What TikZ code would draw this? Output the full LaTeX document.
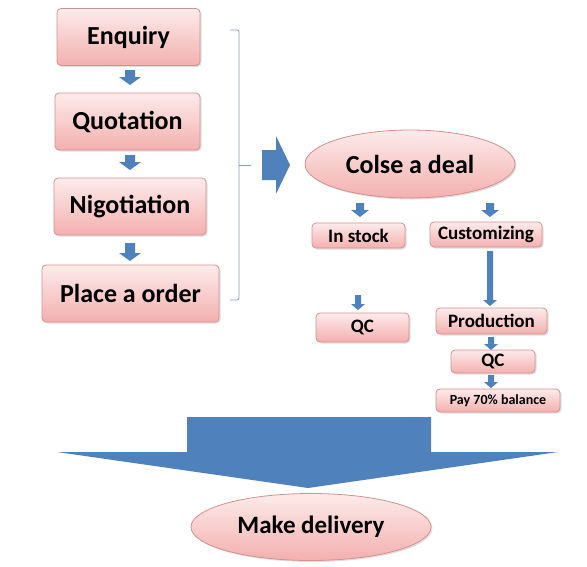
\documentclass[tikz,border=0pt]{standalone}
\usepackage{fontspec}
\setmainfont{Carlito}
\usetikzlibrary{shapes.geometric,shadows}
\definecolor{pinktop}{HTML}{FDEBEB}
\definecolor{pinkbot}{HTML}{F3B0AF}
\definecolor{pinkline}{HTML}{D4908E}
\definecolor{arrowblue}{HTML}{4F81BD}
\definecolor{bracketc}{HTML}{7F9CC0}
\newcommand\dnarr[6]{\fill[arrowblue] (#1-#4,#2) -- (#1+#4,#2) -- (#1+#4,#3-#6) -- (#1+#5,#3-#6) -- (#1,#3) -- (#1-#5,#3-#6) -- (#1-#4,#3-#6) -- cycle;}
\tikzset{
  pinkbox/.style={draw=pinkline, line width=0.8pt, rounded corners=4pt, top color=pinktop, bottom color=pinkbot,
    inner sep=0pt, font=\bfseries, text=black, drop shadow={opacity=0.25, shadow xshift=1.5pt, shadow yshift=-1.5pt}},
  pinkell/.style={pinkbox, ellipse, rounded corners=0pt},
  bigtxt/.style={font=\bfseries\fontsize{26}{29}\selectfont},
  midtxt/.style={font=\bfseries\fontsize{19}{21}\selectfont},
}
\begin{document}
\begin{tikzpicture}[x=1pt,y=-1pt]
\useasboundingbox (0,0) rectangle (587,566);
% left column
\node[pinkbox, bigtxt, minimum width=143, minimum height=57] (enq) at (128.5,37) {Enquiry};
\node[pinkbox, bigtxt, minimum width=145, minimum height=57] (quo) at (127.5,121.5) {Quotation};
\node[pinkbox, bigtxt, minimum width=152, minimum height=57] (nig) at (130,206.5) {Nigotiation};
\node[pinkbox, bigtxt, minimum width=177, minimum height=57] (ord) at (130.5,293.5) {Place a order};
\dnarr{130}{70}{85}{5}{11}{8}
\dnarr{130}{155}{170}{5}{11}{8}
\dnarr{130}{243}{261}{5}{11}{8}
% bracket
\draw[bracketc, line width=0.8pt, rounded corners=2pt] (230,30) -- (239,30) -- (239,300) -- (230,300);
\draw[bracketc, line width=0.8pt] (239,165) -- (251,165);
% big right arrow
\fill[arrowblue] (262,150) -- (276,150) -- (276,136) -- (290,165) -- (276,194) -- (276,180) -- (262,180) -- cycle;
% right part
\node[pinkell, bigtxt, minimum width=210, minimum height=68] (deal) at (410,164) {Colse a deal};
\dnarr{360}{203}{217}{4}{9}{7}
\dnarr{490}{203}{217}{4}{9}{7}
\node[pinkbox, midtxt, minimum width=93, minimum height=25] (stock) at (358.5,235.5) {In stock};
\node[pinkbox, midtxt, minimum width=112, minimum height=25] (cust) at (486,234.5) {Customizing};
\dnarr{358}{295}{310}{3}{7}{6}
\node[pinkbox, midtxt, minimum width=93, minimum height=29] (qc1) at (362.5,327.5) {QC};
\dnarr{490}{251}{306}{3}{7}{6}
\node[pinkbox, midtxt, minimum width=111, minimum height=26] (prod) at (491.5,321) {Production};
\dnarr{491}{337}{350}{3}{7}{6}
\node[pinkbox, midtxt, minimum width=84, minimum height=23] (qc2) at (493,361.5) {QC};
\dnarr{491}{375}{388}{3}{7}{6}
\node[pinkbox, minimum width=124, minimum height=23, font=\bfseries\fontsize{14}{16}\selectfont] (pay) at (498,400.5) {Pay 70\% balance};
% big down arrow
\fill[arrowblue] (187,417) -- (431,417) -- (431,452) -- (558,452) -- (308,488) -- (57,452) -- (187,452) -- cycle;
\node[pinkell, minimum width=240, minimum height=67, font=\bfseries\fontsize{25}{28}\selectfont] (del) at (311,527) {Make delivery};
\end{tikzpicture}
\end{document}
